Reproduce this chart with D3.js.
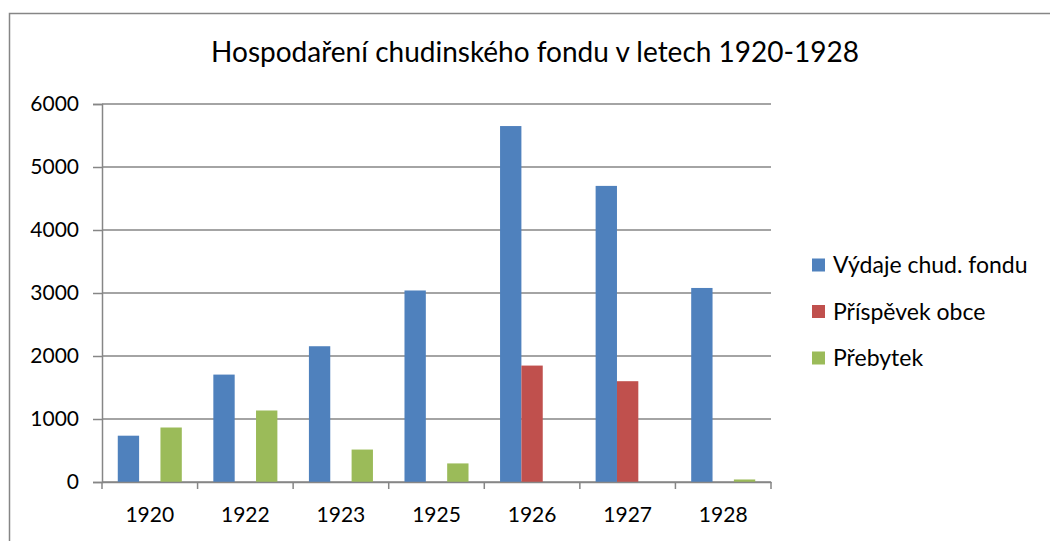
<!DOCTYPE html>
<html>
<head>
<meta charset="utf-8">
<script src="https://cdn.jsdelivr.net/npm/d3@7"></script>
<style>
  body { margin: 0; background: #fff; }
  text { font-family: Lato, "Open Sans", sans-serif; fill: #000; }
</style>
</head>
<body>
<script>
var width = 1050;
var height = 541;

var years = ["1920", "1922", "1923", "1925", "1926", "1927", "1928"];
var seriesNames = ["Výdaje chud. fondu", "Příspěvek obce", "Přebytek"];
var seriesColors = ["#4F81BD", "#C0504D", "#9BBB59"];
var vydaje = [735, 1705, 2155, 3040, 5650, 4700, 3080];
var prispevek = [0, 0, 0, 0, 1848, 1600, 0];
var prebytek = [865, 1135, 515, 295, 0, 0, 40];
var yTicks = [0, 1000, 2000, 3000, 4000, 5000, 6000];
var mtitle = "Hospodaření chudinského fondu v letech 1920-1928";

var pLeft = 102, pRight = 771, pTop = 104, pBottom = 482;
var gridColor = "#868686";

const svg = d3.select("body").append("svg")
  .attr("width", width)
  .attr("height", height);

/* rámeček grafu */
svg.append("rect")
  .attr("x", 9.5).attr("y", 13.5)
  .attr("width", width + 20).attr("height", height + 20)
  .attr("fill", "none")
  .attr("stroke", gridColor)
  .attr("stroke-width", 1.5);

const x0 = d3.scaleBand().domain(years).range([pLeft, pRight]).padding(0);
const bw = x0.bandwidth();
const x1 = d3.scaleBand().domain(seriesNames).range([bw * 0.165, bw * 0.835]).padding(0);
const y = d3.scaleLinear().domain([0, 6000]).range([pBottom, pTop]);
const color = d3.scaleOrdinal(seriesNames, seriesColors);

/* mřížka + osa y */
const yAxis = svg.append("g")
  .attr("transform", "translate(" + pLeft + ",0)")
  .call(d3.axisLeft(y).tickValues(yTicks).tickSize(9).tickPadding(14).tickFormat(d3.format("d")));
yAxis.select(".domain").attr("stroke", gridColor).attr("stroke-width", 1.5);
yAxis.selectAll(".tick line").attr("stroke", gridColor).attr("stroke-width", 1.5);
yAxis.selectAll(".tick text")
  .style("font-size", "21px")
  .attr("fill", "#000");

svg.append("g")
  .selectAll("line")
  .data(yTicks)
  .enter().append("line")
  .attr("x1", pLeft).attr("x2", pRight)
  .attr("y1", d => y(d)).attr("y2", d => y(d))
  .attr("stroke", gridColor)
  .attr("stroke-width", 1.5);

/* sloupce */
var rows = years.map(function (yr, i) {
  return { year: yr, values: [vydaje[i], prispevek[i], prebytek[i]] };
});

const groups = svg.append("g")
  .selectAll("g")
  .data(rows)
  .enter().append("g")
  .attr("transform", d => "translate(" + x0(d.year) + ",0)");

groups.selectAll("rect")
  .data(d => d.values.map((v, j) => ({ key: seriesNames[j], value: v })).filter(e => e.value > 0))
  .enter().append("rect")
  .attr("x", d => x1(d.key))
  .attr("width", x1.bandwidth())
  .attr("y", d => y(d.value))
  .attr("height", d => y(0) - y(d.value))
  .attr("fill", d => color(d.key));

/* osa x */
const xAxis = svg.append("g")
  .attr("transform", "translate(0," + pBottom + ")")
  .call(d3.axisBottom(x0).tickSize(0).tickPadding(25));
xAxis.select(".domain").attr("stroke", gridColor).attr("stroke-width", 1.5);
xAxis.selectAll(".tick text").style("font-size", "21px").attr("fill", "#000");

svg.append("g")
  .selectAll("line")
  .data(d3.range(years.length + 1))
  .enter().append("line")
  .attr("x1", d => pLeft + d * bw).attr("x2", d => pLeft + d * bw)
  .attr("y1", pBottom).attr("y2", pBottom + 7)
  .attr("stroke", gridColor)
  .attr("stroke-width", 1.5);

/* titulek */
svg.append("text")
  .attr("x", 535)
  .attr("y", 62)
  .attr("text-anchor", "middle")
  .style("font-size", "28px")
  .text(mtitle);

/* legenda */
const legend = svg.selectAll(".legend")
  .data(seriesNames)
  .enter().append("g")
  .attr("class", "legend")
  .attr("transform", (d, i) => "translate(812," + (265 + i * 46.5) + ")");

legend.append("rect")
  .attr("x", 0).attr("y", -6.5)
  .attr("width", 13).attr("height", 13)
  .attr("fill", d => color(d));

legend.append("text")
  .attr("x", 21)
  .attr("dy", ".35em")
  .style("font-size", "23px")
  .text(d => d);
</script>
</body>
</html>
